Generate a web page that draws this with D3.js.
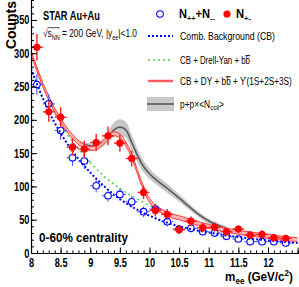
<!DOCTYPE html>
<html><head><meta charset="utf-8">
<script src="https://cdn.jsdelivr.net/npm/d3@7"></script>
<style>
body{margin:0;background:#fff}
svg{display:block}
text{font-family:"Liberation Sans",Arial,Helvetica,sans-serif;fill:#000}
</style>
</head><body><svg id="c" width="299" height="287"></svg>
<script>
// ---------------- data ----------------
const massBins   = [8.1,8.3,8.5,8.7,8.9,9.1,9.3,9.5,9.7,9.9,10.1,10.3,10.5,10.7,10.9,11.1,11.3,11.5,11.7,11.9,12.1,12.3];
const unlikeSign = [309,212,204,159,156,166,176,165,142,91,64,58,35,48,38,39,32,36,27,28,23,22];
const unlikeErr  = [20,15,15,13,13,13,14,13,12,10,9,8,7,7,7,7,6,6,6,6,5,5];
const likeSign   = [253,224,184,143,138,101,86,88,77,62,66,47,36,37,32,30,25,21,17,17,17,15];
const likeErr    = [16,15,14,12,12,10,9,9,9,8,8,7,6,6,6,5,5,5,4,4,4,4];

const curveMass  = [8.0,8.25,8.5,8.75,9.0,9.25,9.5,9.75,10.0,10.25,10.5,10.75,11.0,11.25,11.5,11.75,12.0,12.25,12.5];
const combBkg    = [277,222,180,147,121,99,81,67,56,47,40,35,31,27,24,21,19,17,15];
const cbDyBb     = [300,240,194,162,136,114,97,83,71,61,53,46,40,35,31,28,25,22,20];

const fullMass   = [8.0,8.25,8.5,8.75,8.9,9.0,9.1,9.2,9.3,9.4,9.5,9.6,9.7,9.8,9.9,10.0,10.1,10.2,10.3,10.4,10.5,10.75,11.0,11.25,11.5,11.75,12.0,12.25,12.5];
const fullFit    = [301,242,199,170,160,157,158,164,174,179,176,164,146,121,97,79,69,63,59,55,53,46,40,35,31,28,25,22,20];
const fullErr    = [3,3,3,3,3,3,3,3,3,3,3,3,3,3,3,3,3,3,3,3,3,3,3,3,3,3,3,3,3];

const ppMass     = [8.8,9.0,9.1,9.2,9.3,9.4,9.5,9.6,9.7,9.8,9.9,10.0,10.1,10.2,10.4,10.6,10.8,11.0,11.2,11.3];
const ppScaled   = [166,161,161,165,174,185,189,185,166,146,130,119,111,104,90,75,60,48,40,37];
const ppErr      = [3,4,5,6,8,11,12,12,11,10,9,8,7,7,6,5,4,4,3,3];

const xTickVals  = [8,8.5,9,9.5,10,10.5,11,11.5,12];
const yTickVals  = [0,50,100,150,200,250,300,350];

// ---------------- layout ----------------
const svg = d3.select("#c");
const X0 = 31, Y0 = 253;
const x = d3.scaleLinear().domain([8, 12.5]).range([X0, 297.6]);
const y = d3.scaleLinear().domain([0, 380]).range([Y0, 0]);

svg.append("defs").append("clipPath").attr("id","clip")
  .append("rect").attr("x",X0).attr("y",0).attr("width",299-X0).attr("height",Y0);

const plot = svg.append("g").attr("clip-path","url(#clip)");

// fit text helper: build text at origin in a group, scale horizontally to target width
function fitText(parent, tx, ty, width, build, opts={}) {
  const g = parent.append("g");
  const t = g.append("text");
  if (opts.anchor) t.attr("text-anchor", opts.anchor);
  build(t);
  const w = t.node().getComputedTextLength();
  const s = width / w;
  const rot = opts.rotate ? ` rotate(${opts.rotate})` : "";
  g.attr("transform", `translate(${tx},${ty})${rot} scale(${s},1)`);
  return {g, t};
}

// ---------------- curves ----------------
const line = d3.line().curve(d3.curveCatmullRom.alpha(0.5));
const area = d3.area().curve(d3.curveCatmullRom.alpha(0.5));

// gray p+p band
plot.append("path")
  .attr("d", area(ppMass.map((m,i)=>[x(m), y(ppScaled[i]+ppErr[i]), y(ppScaled[i]-ppErr[i])])
          .map(d=>d)).toString())
  .attr("fill","#c8c8c8");
// rebuild area properly with accessors
plot.select("path").attr("d", d3.area()
  .x((d,i)=>x(ppMass[i])).y0((d,i)=>y(ppScaled[i]-ppErr[i])).y1((d,i)=>y(ppScaled[i]+ppErr[i]))
  .curve(d3.curveCatmullRom.alpha(0.5))(ppMass));
plot.append("path")
  .attr("d", d3.line().x((d,i)=>x(ppMass[i])).y((d,i)=>y(ppScaled[i])).curve(d3.curveCatmullRom.alpha(0.5))(ppMass))
  .attr("fill","none").attr("stroke","#5a5a5a").attr("stroke-width",1.6);

// combinatorial background (blue dotted)
plot.append("path")
  .attr("d", d3.line().x((d,i)=>x(curveMass[i])).y((d,i)=>y(combBkg[i])).curve(d3.curveCatmullRom.alpha(0.5))(curveMass))
  .attr("fill","none").attr("stroke","#0000ff").attr("stroke-width",2).attr("stroke-dasharray","2,2");

// CB + DY + bb (green dash-dot)
plot.append("path")
  .attr("d", d3.line().x((d,i)=>x(curveMass[i])).y((d,i)=>y(cbDyBb[i])).curve(d3.curveCatmullRom.alpha(0.5))(curveMass))
  .attr("fill","none").attr("stroke","#55cc55").attr("stroke-width",1.5).attr("stroke-dasharray","2,3");

// full fit (red band)
plot.append("path")
  .attr("d", d3.area().x((d,i)=>x(fullMass[i])).y0((d,i)=>y(fullFit[i]-fullErr[i])).y1((d,i)=>y(fullFit[i]+fullErr[i]))
    .curve(d3.curveCatmullRom.alpha(0.5))(fullMass))
  .attr("fill","#ffb4b4");
[-1,1].forEach(sg=>{
  plot.append("path")
    .attr("d", d3.line().x((d,i)=>x(fullMass[i])).y((d,i)=>y(fullFit[i]+sg*fullErr[i])).curve(d3.curveCatmullRom.alpha(0.5))(fullMass))
    .attr("fill","none").attr("stroke","#ff3a3a").attr("stroke-width",1);
});

// ---------------- data points ----------------
function errBars(vals, errs, color, w, r) {
  const g = plot.append("g").attr("stroke",color).attr("stroke-width",w);
  massBins.forEach((m,i)=>{
    const cx = x(m), cy = y(vals[i]);
    const top = y(vals[i]+errs[i]), bot = y(vals[i]-errs[i]);
    const l = x(m-0.1), rr = x(m+0.1);
    if (top < cy - r) g.append("line").attr("x1",cx).attr("x2",cx).attr("y1",top).attr("y2",cy-r);
    if (bot > cy + r) g.append("line").attr("x1",cx).attr("x2",cx).attr("y1",cy+r).attr("y2",bot);
    g.append("line").attr("x1",l).attr("x2",cx-r).attr("y1",cy).attr("y2",cy);
    g.append("line").attr("x1",cx+r).attr("x2",rr).attr("y1",cy).attr("y2",cy);
  });
}
errBars(likeSign, likeErr, "#2f4dff", 1, 3.5);
plot.append("g").selectAll("circle").data(massBins).join("circle")
  .attr("cx",(d)=>x(d)).attr("cy",(d,i)=>y(likeSign[i])).attr("r",3.3)
  .attr("fill","none").attr("stroke","#0000ff").attr("stroke-width",1.1);

errBars(unlikeSign, unlikeErr, "#ff2020", 1.4, 0);
plot.append("g").selectAll("circle").data(massBins).join("circle")
  .attr("cx",(d)=>x(d)).attr("cy",(d,i)=>y(unlikeSign[i])).attr("r",3.6)
  .attr("fill","#ff0000");

// ---------------- axes ----------------
const TS = 0.74; // horizontal scaling of tick labels
const xMinor = d3.range(8, 12.55, 0.1).map(v=>+v.toFixed(2));
svg.append("g").attr("transform",`translate(0,${Y0})`)
  .call(d3.axisBottom(x).tickValues(xMinor).tickSize(-2.6).tickSizeOuter(0).tickFormat(""))
  .call(g=>g.select(".domain").remove())
  .call(g=>g.selectAll("line").attr("stroke","#000"));
const xa = svg.append("g").attr("transform",`translate(0,${Y0})`)
  .call(d3.axisBottom(x).tickValues(xTickVals.concat([12.5])).tickSize(-5.5).tickSizeOuter(0).tickPadding(5)
        .tickFormat(d=> d===12.5 ? "" : d3.format("")(d)));
xa.select(".domain").attr("d",`M${X0},0.5H299`).attr("stroke","#000").attr("stroke-width",1.2);
xa.selectAll("text").attr("font-size",12.5).attr("font-weight","bold")
  .attr("font-family","'Liberation Sans',Arial,sans-serif")
  .attr("transform",`scale(${TS},1)`).attr("fill","#000");

const yMinor = d3.range(0, 381, 10);
svg.append("g").attr("transform",`translate(${X0},0)`)
  .call(d3.axisLeft(y).tickValues(yMinor).tickSize(-3).tickSizeOuter(0).tickFormat(""))
  .call(g=>g.select(".domain").remove());
const ya = svg.append("g").attr("transform",`translate(${X0},0)`)
  .call(d3.axisLeft(y).tickValues(yTickVals).tickSize(-6).tickSizeOuter(0).tickPadding(0));
ya.select(".domain").attr("d",`M0.5,${Y0}V0`).attr("stroke","#000").attr("stroke-width",1.2);
ya.selectAll("text").attr("font-size",12.5).attr("font-weight","bold")
  .attr("font-family","'Liberation Sans',Arial,sans-serif")
  .attr("x",0).attr("transform",`translate(-1.5,0) scale(${TS},1)`).attr("fill","#000");

// axis titles
fitText(svg, 16, 49, 48, t=>{
  t.attr("font-size",15).attr("font-weight","bold").text("Counts");
}, {rotate:-90});

fitText(svg, 293, 281, 68, t=>{
  t.attr("font-size",13).attr("font-weight","bold");
  t.append("tspan").text("m");
  t.append("tspan").attr("font-size",9).attr("dy",3).text("ee");
  t.append("tspan").attr("dy",-3).text(" (GeV/c");
  t.append("tspan").attr("font-size",9).attr("dy",-5).text("2");
  t.append("tspan").attr("dy",5).text(")");
}, {anchor:"end"});

// ---------------- annotations ----------------
fitText(svg, 43, 19.5, 57, t=>{
  t.attr("font-size",12.5).attr("font-weight","bold").text("STAR Au+Au");
});

const sq = fitText(svg, 43, 37, 94, t=>{
  t.attr("font-size",10.5);
  t.append("tspan").text("\u221A");
  t.append("tspan").text("s");
  t.append("tspan").attr("font-size",7).attr("dy",2.5).text("NN");
  t.append("tspan").attr("dy",-2.5).text(" = 200 GeV, |y");
  t.append("tspan").attr("font-size",7).attr("dy",2.5).text("ee");
  t.append("tspan").attr("dy",-2.5).text("|<1.0");
});
{
  const n = sq.t.node();
  const a = n.getExtentOfChar(1), b = n.getExtentOfChar(3);
  sq.g.append("line").attr("x1",a.x).attr("x2",b.x+b.width).attr("y1",-9.3).attr("y2",-9.3)
    .attr("stroke","#000").attr("stroke-width",0.8);
}

fitText(svg, 39, 242, 89, t=>{
  t.attr("font-size",13).attr("font-weight","bold").text("0-60% centrality");
});

// ---------------- legend ----------------
const lg = svg.append("g");
lg.append("circle").attr("cx",160).attr("cy",14).attr("r",3.3).attr("fill","none").attr("stroke","#0000ff").attr("stroke-width",1.1);
fitText(lg, 179, 18, 36, t=>{
  t.attr("font-size",12).attr("font-weight","bold");
  t.append("tspan").text("N");
  t.append("tspan").attr("font-size",8).attr("dy",2.5).text("++");
  t.append("tspan").attr("dy",-2.5).text("+N");
  t.append("tspan").attr("font-size",8).attr("dy",2.5).text("--");
});
lg.append("circle").attr("cx",227).attr("cy",14).attr("r",3.6).attr("fill","#ff0000");
fitText(lg, 236, 18, 15, t=>{
  t.attr("font-size",12).attr("font-weight","bold");
  t.append("tspan").text("N");
  t.append("tspan").attr("font-size",8).attr("dy",2.5).text("+-");
});

lg.append("line").attr("x1",148).attr("x2",173).attr("y1",36).attr("y2",36)
  .attr("stroke","#0000ff").attr("stroke-width",2).attr("stroke-dasharray","2,2");
fitText(lg, 180, 39.5, 95, t=>{
  t.attr("font-size",10).text("Comb. Background (CB)");
});

lg.append("line").attr("x1",148).attr("x2",173).attr("y1",60).attr("y2",60)
  .attr("stroke","#55cc55").attr("stroke-width",1.5).attr("stroke-dasharray","2,3");
fitText(lg, 180, 64, 70, t=>{
  t.attr("font-size",10);
  t.append("tspan").text("CB + Drell-Yan + b");
  t.append("tspan").attr("text-decoration","overline").style("text-decoration","overline").text("b");
});

lg.append("rect").attr("x",148).attr("y",79.5).attr("width",25).attr("height",3).attr("fill","#ffb4b4");
lg.append("line").attr("x1",148).attr("x2",173).attr("y1",81).attr("y2",81)
  .attr("stroke","#ff3a3a").attr("stroke-width",1.4);
fitText(lg, 180, 85, 112, t=>{
  t.attr("font-size",10);
  t.append("tspan").text("CB + DY + b");
  t.append("tspan").style("text-decoration","overline").text("b");
  t.append("tspan").text(" + \u03D2(1S+2S+3S)");
});

lg.append("rect").attr("x",147).attr("y",97).attr("width",27).attr("height",14).attr("fill","#c8c8c8");
lg.append("line").attr("x1",147).attr("x2",174).attr("y1",104).attr("y2",104)
  .attr("stroke","#5a5a5a").attr("stroke-width",1.6);
fitText(lg, 180, 107.5, 44, t=>{
  t.attr("font-size",10);
  t.append("tspan").text("p+p\u00D7<N");
  t.append("tspan").attr("font-size",7).attr("dy",2.5).text("coll");
  t.append("tspan").attr("dy",-2.5).text(">");
});
</script>
</body></html>
